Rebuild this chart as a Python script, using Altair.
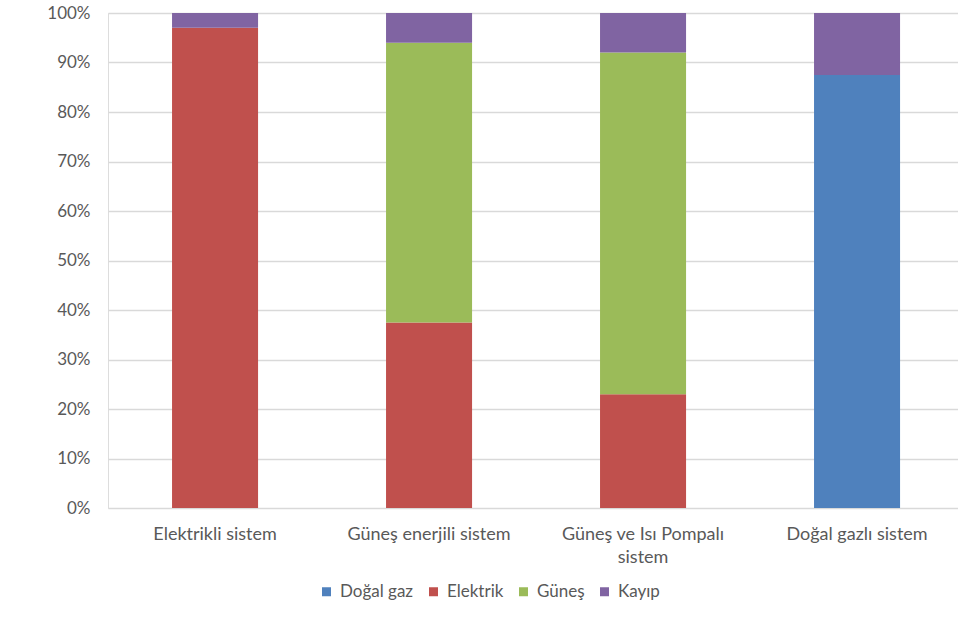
import altair as alt
import pandas as pd

# Share of each energy source per heating system (fractions of 1)
systems = ["Elektrikli sistem", "Güneş enerjili sistem", "Güneş ve Isı Pompalı sistem", "Doğal gazlı sistem"]
sources = ["Doğal gaz", "Elektrik", "Güneş", "Kayıp"]
dogal_gaz = [0.0, 0.0, 0.0, 0.875]
elektrik = [0.97, 0.375, 0.23, 0.0]
gunes = [0.0, 0.565, 0.69, 0.0]
kayip = [0.03, 0.06, 0.08, 0.125]
colors = ["#4F81BD", "#C0504D", "#9BBB59", "#8064A2"]

rows = []
for i, s in enumerate(systems):
    for j, (src, vals) in enumerate(zip(sources, [dogal_gaz, elektrik, gunes, kayip])):
        rows.append({"Sistem": s, "Kaynak": src, "Pay": vals[i], "Sira": j})
df = pd.DataFrame(rows)

font = "Lato"
label_color = "#595959"

chart = alt.Chart(df).mark_bar().encode(
    x=alt.X(
        "Sistem:N",
        sort=systems,
        title=None,
        scale=alt.Scale(paddingInner=0.598, paddingOuter=0.285, align=0.525),
        axis=alt.Axis(
            labelAngle=0,
            labelFontSize=18,
            labelColor=label_color,
            labelFont=font,
            labelPadding=17,
            labelLineHeight=23,
            ticks=False,
            domain=False,
            labelExpr="datum.label == 'Güneş ve Isı Pompalı sistem' ? ['Güneş ve Isı Pompalı', 'sistem'] : datum.label",
        ),
    ),
    y=alt.Y(
        "Pay:Q",
        stack="zero",
        title=None,
        scale=alt.Scale(domain=[0, 1], nice=False),
        axis=alt.Axis(
            format="%",
            values=[i / 10 for i in range(11)],
            labelFontSize=17,
            labelColor=label_color,
            labelFont=font,
            labelPadding=18,
            ticks=False,
            domain=False,
            grid=True,
            gridColor="#d9d9d9",
            gridWidth=1.5,
        ),
    ),
    color=alt.Color(
        "Kaynak:N",
        sort=sources,
        scale=alt.Scale(domain=sources, range=colors),
        legend=alt.Legend(
            title=None,
            orient="none",
            direction="horizontal",
            legendX=210,
            legendY=570,
            symbolType="square",
            symbolSize=81,
            symbolStrokeWidth=0,
            labelFontSize=17,
            labelFont=font,
            labelColor=label_color,
            labelOffset=5,
            columnPadding=11,
        ),
    ),
    order=alt.Order("Sira:Q", sort="ascending"),
).properties(
    width=850,
    height=495,
    autosize=alt.AutoSizeParams(type="none"),
    padding={"left": 108, "top": 13, "right": 0, "bottom": 120},
).configure_view(stroke=None).configure(background="white")

chart.save("out.html", embed_options={"renderer": "svg", "actions": False})
